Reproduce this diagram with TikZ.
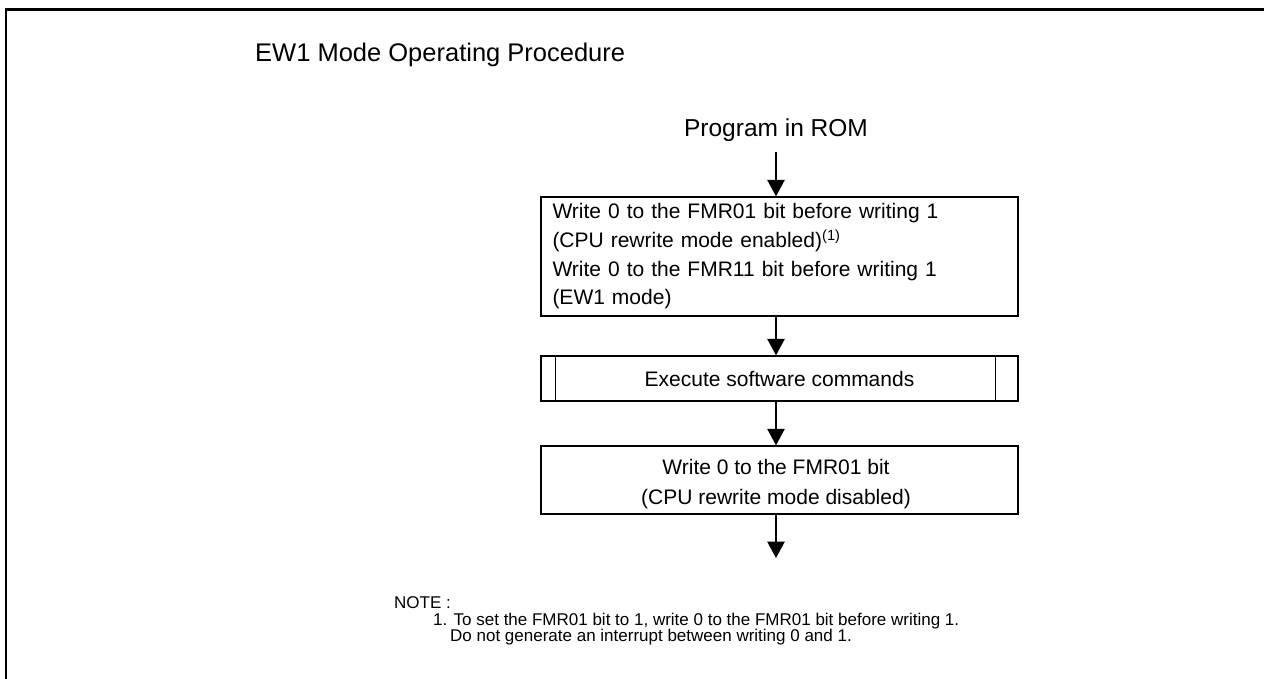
\documentclass[tikz,border=0pt]{standalone}
\usepackage{fontspec}
\setmainfont{Liberation Sans}
\usetikzlibrary{arrows.meta}
\begin{document}
\begin{tikzpicture}[x=1pt,y=-1pt,
  flowbox/.style={draw, line width=1.4pt, rectangle, inner sep=0pt, minimum width=477pt},
  arr/.style={line width=1.4pt, -{Triangle[length=16.5pt,width=17.5pt]}},
  boxfont/.style={font=\fontsize{21}{28.7}\selectfont},
  boxfontb/.style={font=\fontsize{21}{30}\selectfont},
  notefont/.style={font=\fontsize{17}{16}\selectfont}
]
\useasboundingbox (0,0) rectangle (1264,678);
\draw[line width=2.8pt] (6,680) -- (6,9.4) -- (1266,9.4);

\node[anchor=base west, font=\fontsize{25.5}{30}\selectfont, inner sep=0pt] (title) at (255,61) {EW1 Mode Operating Procedure};

\node[anchor=base, font=\fontsize{24.5}{30}\selectfont, inner sep=0pt] (prog) at (776,136) {Program in ROM};
\coordinate (p0) at (776,152);

\node[flowbox, boxfont, minimum height=119pt, text width=454pt, inner xsep=11.5pt, align=left] (b1) at (779.5,256.5)
  {Write 0 to the FMR01 bit before writing 1\\
   (CPU rewrite mode enabled)\textsuperscript{(1)}\\
   Write 0 to the FMR11 bit before writing 1\\
   (EW1 mode)};

\node[flowbox, boxfont, minimum height=45pt] (b2) at (779.5,378.5) {Execute software commands};
\draw[line width=1.4pt] ([xshift=15pt]b2.north west) -- ([xshift=15pt]b2.south west);
\draw[line width=1.4pt] ([xshift=-23pt]b2.north east) -- ([xshift=-23pt]b2.south east);

\node[flowbox, boxfontb, minimum height=68pt, align=center] (b3) at (779.5,480) {};
\node[boxfontb, align=center, inner sep=0pt] (b3t) at (776,484)
  {Write 0 to the FMR01 bit\\(CPU rewrite mode disabled)};
\coordinate (end) at (776,558);

\draw[arr] (p0) -- (p0 |- b1.north);
\draw[arr] (b1.south -| p0) -- (b2.north -| p0);
\draw[arr] (b2.south -| p0) -- (b3.north -| p0);
\draw[arr] (b3.south -| p0) -- (end);

\node[anchor=base west, notefont, inner sep=0pt] (note) at (394,608) {NOTE :};
\node[anchor=base west, notefont, inner sep=0pt] (n1) at (433,625) {1. To set the FMR01 bit to 1, write 0 to the FMR01 bit before writing 1.};
\node[anchor=base west, notefont, inner sep=0pt] (n2) at (450,641) {Do not generate an interrupt between writing 0 and 1.};
\end{tikzpicture}
\end{document}
